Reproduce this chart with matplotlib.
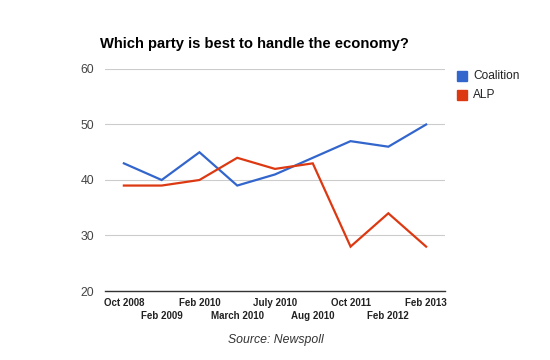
import matplotlib
matplotlib.use("Agg")
import matplotlib.pyplot as plt
from matplotlib.patches import Rectangle

plt.rcParams['font.family'] = ['Liberation Sans', 'DejaVu Sans']

categories = ["Oct 2008", "Feb 2009", "Feb 2010", "March 2010", "July 2010",
              "Aug 2010", "Oct 2011", "Feb 2012", "Feb 2013"]
coalition = [43, 40, 45, 39, 41, 44, 47, 46, 50]
alp = [39, 39, 40, 44, 42, 43, 28, 34, 28]
yticks = [20, 30, 40, 50, 60]
series_names = ["Coalition", "ALP"]
colors = ["#3366CC", "#DC3912"]

fig = plt.figure(figsize=(5.5, 3.6), dpi=100)
ax = fig.add_axes([105/550, 1-291/360, 340/550, 222/360])
x = list(range(len(categories)))
ax.plot(x, coalition, color=colors[0], lw=1.6, solid_joinstyle='miter')
ax.plot(x, alp, color=colors[1], lw=1.6, solid_joinstyle='miter')
ax.set_xlim(-0.5, len(categories) - 0.5)
ax.set_ylim(20, 60)
ax.set_yticks(yticks)
ax.set_yticklabels([str(v) for v in yticks], color="#444444", fontsize=8.8)
ax.yaxis.grid(True, color="#cccccc", lw=0.8)
ax.set_axisbelow(True)
for s in ["top", "right", "left"]:
    ax.spines[s].set_visible(False)
ax.spines["bottom"].set_color("#333333")
ax.spines["bottom"].set_linewidth(1.0)
ax.tick_params(axis="both", length=0)
ax.tick_params(axis="y", pad=8)
ax.set_xticks(x)
ax.set_xticklabels([])
for i, lab in enumerate(categories):
    dy = -8.6 if i % 2 == 0 else -18
    ax.annotate(lab, (i, 20), xytext=(0, dy), textcoords="offset points",
                ha="center", va="center", fontsize=7, fontweight="bold",
                color="#222222", annotation_clip=False)

fig.text(254/550, 1-44/360, "Which party is best to handle the economy?",
         ha="center", va="center", fontsize=10.6, fontweight="bold", color="black")
fig.text(276/550, 1-340/360, "Source: Newspoll", ha="center", va="center",
         fontsize=8.8, style="italic", color="#333333")

# legend
for j, name in enumerate(series_names):
    yc = 1 - (76 + j * 19) / 360
    fig.patches.append(Rectangle((457/550, yc - 5/360), 10/550, 10/360,
                                 transform=fig.transFigure, color=colors[j]))
    fig.text(473/550, yc, name, ha="left", va="center", fontsize=8.6,
             color="#222222")

fig.savefig("out.png", dpi=100)
